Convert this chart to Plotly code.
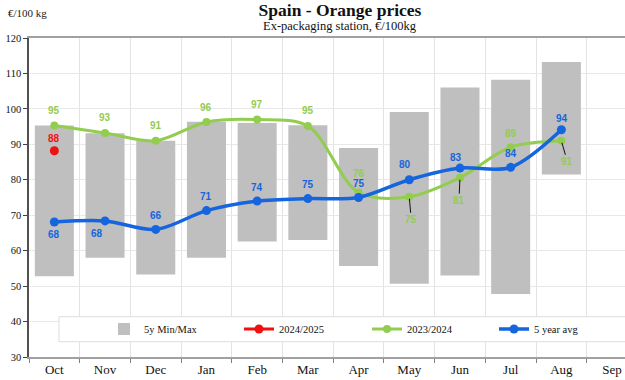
import plotly.graph_objects as go

months = ["Oct", "Nov", "Dec", "Jan", "Feb", "Mar", "Apr", "May", "Jun", "Jul", "Aug", "Sep"]
data_months = months[:11]

range_min = [52.8, 58.0, 53.3, 58.0, 62.6, 63.0, 55.7, 50.7, 53.0, 47.8, 81.5]
range_max = [95.3, 93.1, 91.0, 96.4, 96.0, 95.4, 89.0, 99.1, 106.0, 108.2, 113.2]

season_2425 = [88.2]
season_2324 = [95.3, 93.2, 91.0, 96.3, 97.0, 95.2, 76.4, 75.2, 80.6, 89.2, 91.0]
avg_5y = [68.1, 68.4, 66.0, 71.3, 74.0, 74.7, 75.0, 80.0, 83.3, 83.5, 94.1]

GREEN = "#92CD4F"
BLUE = "#1565DE"
RED = "#F01010"
GREY = "#BFBFBF"
SERIF = "Liberation Serif, Times New Roman, serif"
SANS = "Liberation Sans, Arial, sans-serif"

fig = go.Figure()

fig.add_trace(go.Bar(
    x=data_months, y=[hi - lo for lo, hi in zip(range_min, range_max)], base=range_min,
    width=0.77, marker=dict(color=GREY, line=dict(width=0)),
    name="5y Min/Max", legend="legend", hoverinfo="skip"))

fig.add_trace(go.Scatter(
    x=data_months[:len(season_2425)], y=season_2425, mode="lines+markers",
    line=dict(color=RED, width=3), marker=dict(size=9, color=RED),
    name="2024/2025", legend="legend2"))

fig.add_trace(go.Scatter(
    x=data_months, y=season_2324, mode="lines+markers",
    line=dict(color=GREEN, width=3, shape="spline", smoothing=0.9),
    marker=dict(size=8, color=GREEN),
    name="2023/2024", legend="legend3"))

fig.add_trace(go.Scatter(
    x=data_months, y=avg_5y, mode="lines+markers",
    line=dict(color=BLUE, width=3.5, shape="spline", smoothing=0.9),
    marker=dict(size=9, color=BLUE),
    name="5 year avg", legend="legend4"))

# label offsets (pixels): (dx, dy, leader_line)
green_off = [(0, -15, False), (0, -15, False), (0, -15, False), (0, -15, False), (0, -15, False),
             (0, -15, False), (0, -19, False), (2, 23, True), (-1, 23, True), (0, -14, False), (6, 21, True)]
blue_off = [(0, 13, False), (-8, 13, False), (0, -14, False), (0, -14, False), (0, -14, False),
            (0, -14, False), (0, -14, False), (-4, -15, False), (-4, -11, False), (0, -14, False), (1, -11, False)]
red_off = [(0, -12, False)]

annotations = []


def add_labels(values, offsets, color):
    for m, v, (dx, dy, lead) in zip(data_months, values, offsets):
        common = dict(x=m, y=v, xref="x", yref="y", text=f"{round(v)}",
                      font=dict(family=SANS, size=10, color=color, weight="bold"))
        if lead:
            annotations.append(dict(common, showarrow=True, arrowhead=0, arrowwidth=1,
                                    arrowcolor="#111111", ax=dx, ay=dy, standoff=2))
        else:
            annotations.append(dict(common, showarrow=False, xshift=dx, yshift=-dy))


add_labels(season_2324, green_off, GREEN)
add_labels(avg_5y, blue_off, BLUE)
add_labels(season_2425, red_off, RED)

L, T, B, W, H = 29, 38, 23, 625, 380
PW, PH = W - L, H - T - B


def px(xp):
    return (xp - L) / PW


def py(yp):
    return (H - B - yp) / PH


annotations.append(dict(text="Ex-packaging station, €/100kg", xref="paper", yref="paper",
                        x=px(340), y=py(26), xanchor="center", yanchor="middle", showarrow=False,
                        font=dict(family=SERIF, size=12.5, color="#111111")))
annotations.append(dict(text="€/100 kg", xref="paper", yref="paper",
                        x=px(6), y=py(13), xanchor="left", yanchor="middle", showarrow=False,
                        font=dict(family=SERIF, size=11, color="#222222")))

leg_font = dict(family=SERIF, size=10.5, color="#111111")


def leg(text_start):
    return dict(orientation="h", x=px(text_start - 39), y=py(329), xanchor="left", yanchor="middle",
                bgcolor="rgba(0,0,0,0)", font=leg_font, itemwidth=30)


fig.update_layout(
    width=W, height=H,
    margin=dict(l=L, r=0, t=T, b=B),
    paper_bgcolor="white", plot_bgcolor="white",
    title=dict(text="<b>Spain - Orange prices</b>", x=340 / W, xanchor="center",
               y=1 - 10 / H, yanchor="middle", yref="container",
               font=dict(family=SERIF, size=17.5, color="#111111")),
    showlegend=True,
    legend=leg(143), legend2=leg(278), legend3=leg(406), legend4=leg(533),
    annotations=annotations,
    shapes=[dict(type="rect", xref="paper", yref="paper", x0=px(59), x1=1.02, y0=py(341.7), y1=py(316.7),
                 fillcolor="white", line=dict(color="#DDDDDD", width=1), layer="above")],
    xaxis=dict(type="category", categoryorder="array", categoryarray=months,
               tickvals=months, range=[-0.5, 11.255], tickson="boundaries",
               showgrid=True, gridcolor="#E3E3E3", gridwidth=1,
               ticks="outside", ticklen=4, tickcolor="#808080",
               showline=True, linecolor="#A0A0A0", linewidth=1.5, mirror=True,
               tickfont=dict(family=SERIF, size=13, color="#111111")),
    yaxis=dict(range=[30, 120], dtick=10, showgrid=True, gridcolor="#E8E8E8", gridwidth=1,
               ticks="outside", ticklen=4, tickcolor="#404040",
               showline=True, linecolor="#505050", linewidth=1.5, zeroline=False,
               tickfont=dict(family=SERIF, size=10.5, color="#111111")),
    bargap=0.23,
)

fig.write_html("out.html", config={"displayModeBar": False},
               post_script="document.body.style.margin='0';document.body.style.padding='0';")
